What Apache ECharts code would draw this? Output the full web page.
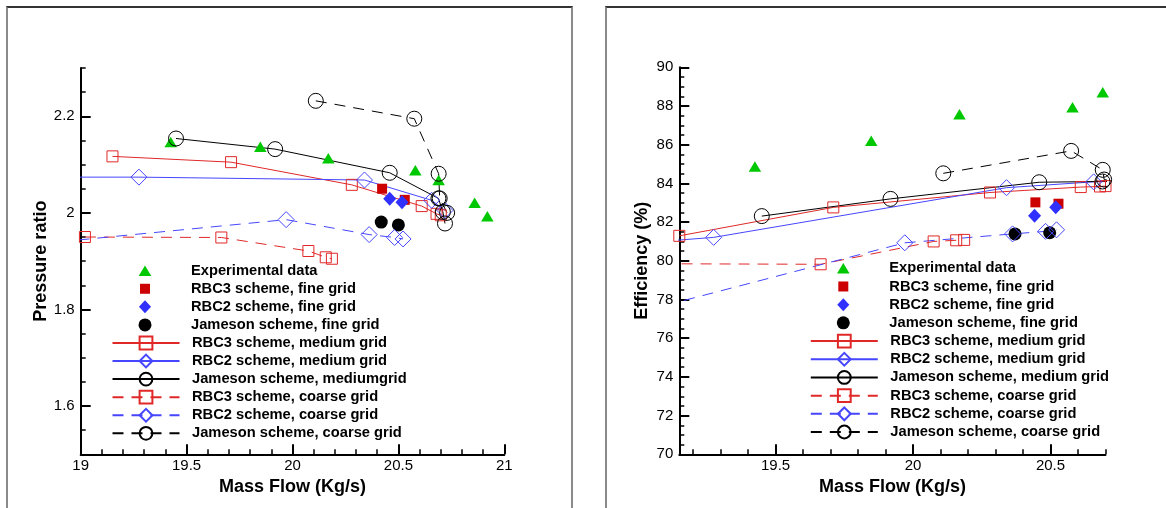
<!DOCTYPE html>
<html><head><meta charset="utf-8">
<script src="https://cdn.jsdelivr.net/npm/echarts@6/dist/echarts.min.js"></script>
<style>
html,body{margin:0;padding:0;background:#fff;width:1166px;height:508px;overflow:hidden;}
.frame{position:absolute;box-sizing:border-box;border:2px solid #8a8a8a;border-top:2px solid #333;}
#f1{left:6px;top:6px;width:567px;height:560px;}
#f2{left:605px;top:6px;width:600px;height:560px;}
#chart{position:absolute;left:0;top:0;width:1166px;height:508px;}
</style></head><body>
<div class="frame" id="f1"></div><div class="frame" id="f2"></div>
<div id="chart"></div>
<script>
// ---------- data ----------
const expFlow = [19.425, 19.848, 20.169, 20.58, 20.69, 20.86, 20.92];
const expPR   = [2.147, 2.137, 2.113, 2.088, 2.068, 2.021, 1.993];
const expEff  = [84.87, 86.21, 87.57, 87.93, 88.71];

const rbc3FineFlowPR = [20.423, 20.530];  const rbc3FinePR = [2.050, 2.027];
const rbc2FineFlowPR = [20.459, 20.517];  const rbc2FinePR = [2.029, 2.022];
const jamFineFlowPR  = [20.419, 20.500];  const jamFinePR  = [1.981, 1.975];
const rbc3FineFlowEff = [20.445, 20.529]; const rbc3FineEff = [83.02, 82.95];
const rbc2FineFlowEff = [20.442, 20.519]; const rbc2FineEff = [82.33, 82.77];
const jamFineFlowEff  = [20.371, 20.497]; const jamFineEff  = [81.39, 81.45];

const rbc3MedFlow = [19.15, 19.71, 20.28, 20.61, 20.68, 20.70];
const rbc3MedPR   = [2.117, 2.105, 2.058, 2.014, 1.998, 1.995];
const rbc3MedEff  = [81.29, 82.76, 83.53, 83.81, 83.84, 83.86];

const rbc2MedFlow = [18.9, 19.275, 20.34, 20.657, 20.72];
const rbc2MedPR   = [2.074, 2.074, 2.068, 2.026, 2.005];
const rbc2MedEff  = [80.8, 81.21, 83.78, 84.08, 84.1];

const jamMedFlow = [19.45, 19.918, 20.459, 20.689, 20.71, 20.72];
const jamMedPR   = [2.154, 2.132, 2.083, 2.030, 2.002, 1.978];
const jamMedEff  = [82.31, 83.2, 84.06, 84.1, 84.1, 84.1];

const rbc3CoarseFlow = [19.02, 19.664, 20.075, 20.157, 20.186];
const rbc3CoarsePR   = [1.950, 1.949, 1.921, 1.908, 1.905];
const rbc3CoarseEff  = [79.85, 79.82, 81.0, 81.06, 81.08];

const rbc2CoarseFlow = [18.9, 19.97, 20.362, 20.482, 20.522];
const rbc2CoarsePR   = [1.940, 1.986, 1.955, 1.949, 1.946];
const rbc2CoarseEff  = [76.96, 80.93, 81.39, 81.52, 81.6];

const jamCoarseFlow = [20.11, 20.575, 20.69, 20.695, 20.73];
const jamCoarsePR   = [2.232, 2.195, 2.081, 2.03, 2.0];
const jamCoarseEff  = [84.52, 85.68, 84.7, 84.2, 84.1];

// ticks
const prXMajor = [19, 19.5, 20, 20.5, 21];
const prXMinor = [19.1,19.2,19.3,19.4,19.6,19.7,19.8,19.9,20.1,20.2,20.3,20.4,20.6,20.7,20.8,20.9];
const prYMajor = [1.6, 1.8, 2, 2.2];
const prYMinor = [1.55,1.65,1.7,1.75,1.85,1.9,1.95,2.05,2.1,2.15,2.25,2.3];
const efXMajor = [19.5, 20, 20.5];
const efXMinor = [19.2,19.3,19.4,19.6,19.7,19.8,19.9,20.1,20.2,20.3,20.4,20.6,20.7];
const efYMajor = [70,72,74,76,78,80,82,84,86,88,90];
const efYMinor = [70.5,71,71.5,72.5,73,73.5,74.5,75,75.5,76.5,77,77.5,78.5,79,79.5,80.5,81,81.5,82.5,83,83.5,84.5,85,85.5,86.5,87,87.5,88.5,89,89.5];

const N_EXP = 'Experimental data';
const N_R3F = 'RBC3 scheme, fine grid';
const N_R2F = 'RBC2 scheme, fine grid';
const N_JF  = 'Jameson scheme, fine grid';
const N_R3M = 'RBC3 scheme, medium grid';
const N_R2M = 'RBC2 scheme, medium grid';
const N_JM_L = 'Jameson scheme, mediumgrid';
const N_JM_R = 'Jameson scheme, medium grid';
const N_R3C = 'RBC3 scheme, coarse grid';
const N_R2C = 'RBC2 scheme, coarse grid';
const N_JC  = 'Jameson scheme, coarse grid';

// ---------- style ----------
const FONT = '"Liberation Sans", Arial, Helvetica, sans-serif';
const GREEN = '#00c800', RED_F = '#cc0000', BLUE_F = '#3030ff';
const RED_L = '#e02828', BLUE_L = '#4646ff', BLACK = '#000';
const DASH = [11, 8];
const fmt = v => String(+(+v).toFixed(2));

function zip(xs, ys){ return ys.map((y,i)=>[xs[i], y]); }

function majorX(gi, min, max, ticks){
  return {type:'value', gridIndex:gi, min, max, position:'bottom',
    name:'Mass Flow (Kg/s)', nameLocation:'middle', nameGap:19,
    nameTextStyle:{fontFamily:FONT,fontSize:18,fontWeight:'bold',color:'#000'},
    axisLine:{show:true,onZero:false,lineStyle:{color:'#000',width:2}},
    axisTick:{show:true,inside:true,length:10,lineStyle:{color:'#000',width:2},customValues:ticks},
    axisLabel:{show:true,margin:4,customValues:ticks,fontFamily:FONT,fontSize:15,color:'#000',formatter:fmt},
    splitLine:{show:false}};
}
function minorX(gi, min, max, ticks){
  return {type:'value', gridIndex:gi, min, max, position:'bottom',
    axisLine:{show:false,onZero:false},
    axisTick:{show:true,inside:true,length:5,lineStyle:{color:'#000',width:1.5},customValues:ticks},
    axisLabel:{show:false}, splitLine:{show:false}};
}
function majorY(gi, min, max, ticks, name, gap){
  return {type:'value', gridIndex:gi, min, max, position:'left',
    name, nameLocation:'middle', nameGap:gap,
    nameTextStyle:{fontFamily:FONT,fontSize:18,fontWeight:'bold',color:'#000'},
    axisLine:{show:true,onZero:false,lineStyle:{color:'#000',width:2}},
    axisTick:{show:true,inside:true,length:10,lineStyle:{color:'#000',width:2},customValues:ticks},
    axisLabel:{show:true,margin:6,customValues:ticks,fontFamily:FONT,fontSize:15,color:'#000',formatter:fmt},
    splitLine:{show:false}};
}
function minorY(gi, min, max, ticks){
  return {type:'value', gridIndex:gi, min, max, position:'left',
    axisLine:{show:false,onZero:false},
    axisTick:{show:true,inside:true,length:5,lineStyle:{color:'#000',width:1.5},customValues:ticks},
    axisLabel:{show:false}, splitLine:{show:false}};
}

function scat(name, data, symbol, size, color, ai){
  return {type:'scatter', name, data, symbol, symbolSize:size, xAxisIndex:ai, yAxisIndex:ai,
    itemStyle:{color, opacity:1}, emphasis:{disabled:true}, silent:true, z:3};
}
function ln(name, data, symbol, size, color, dashed, ai){
  return {type:'line', name, data, symbol, symbolSize:size, showSymbol:true, showAllSymbol:true,
    xAxisIndex:ai, yAxisIndex:ai, clip:true,
    itemStyle:{color:'rgba(255,255,255,0)', borderColor:color, borderWidth:1},
    lineStyle:{color, width:1, type: dashed ? DASH : 'solid'},
    emphasis:{disabled:true}, silent:true, z:3};
}

const TRI = [12.5, 10.5];
function panelSeries(ai, fineSets, exp, med, coarse, jmName){
  return [
    scat(N_EXP, exp, 'triangle', TRI, GREEN, ai),
    scat(N_R3F, fineSets[0], 'rect', 10, RED_F, ai),
    scat(N_R2F, fineSets[1], 'diamond', [13,14], BLUE_F, ai),
    scat(N_JF,  fineSets[2], 'circle', 13, BLACK, ai),
    ln(N_R3M, med[0], 'rect', 11, RED_L, false, ai),
    ln(N_R2M, med[1], 'diamond', 16, BLUE_L, false, ai),
    ln(jmName, med[2], 'circle', 15, BLACK, false, ai),
    ln(N_R3C, coarse[0], 'rect', 11, RED_L, true, ai),
    ln(N_R2C, coarse[1], 'diamond', 16, BLUE_L, true, ai),
    ln(N_JC,  coarse[2], 'circle', 15, BLACK, true, ai)
  ];
}

const seriesPR = panelSeries(0,
  [zip(rbc3FineFlowPR, rbc3FinePR), zip(rbc2FineFlowPR, rbc2FinePR), zip(jamFineFlowPR, jamFinePR)],
  zip(expFlow, expPR),
  [zip(rbc3MedFlow, rbc3MedPR), zip(rbc2MedFlow, rbc2MedPR), zip(jamMedFlow, jamMedPR)],
  [zip(rbc3CoarseFlow, rbc3CoarsePR), zip(rbc2CoarseFlow, rbc2CoarsePR), zip(jamCoarseFlow, jamCoarsePR)],
  N_JM_L);
const seriesEff = panelSeries(2,
  [zip(rbc3FineFlowEff, rbc3FineEff), zip(rbc2FineFlowEff, rbc2FineEff), zip(jamFineFlowEff, jamFineEff)],
  zip(expFlow, expEff),
  [zip(rbc3MedFlow, rbc3MedEff), zip(rbc2MedFlow, rbc2MedEff), zip(jamMedFlow, jamMedEff)],
  [zip(rbc3CoarseFlow, rbc3CoarseEff), zip(rbc2CoarseFlow, rbc2CoarseEff), zip(jamCoarseFlow, jamCoarseEff)],
  N_JM_R);

const legendText = {fontFamily:FONT, fontWeight:'bold', fontSize:14.7, color:'#000', lineHeight:18, padding:[0,0,0,7.5]};
const ICON_TRI = 'path://M0,0 M13,13 M0.2,11.8 L6.5,1.3 L12.8,11.8 Z';
const ICON_SQ  = 'path://M0,0 M13,13 M1.5,1.5 L11.5,1.5 L11.5,11.5 L1.5,11.5 Z';
const ICON_DIA = 'path://M6.5,0 L13,7 L6.5,14 L0,7 Z';
const ICON_CIR = 'path://M0,6.5 A6.5,6.5 0 1,1 13,6.5 A6.5,6.5 0 1,1 0,6.5 Z';
// scatter-only legend icons are 13 px wide and centred in a 67 px slot, so its box starts 27 px to the right
function legendPair(left, top, step, jmName){
  const common = {orient:'vertical', padding:0, itemWidth:67, selectedMode:false, textStyle:legendText};
  return [
    Object.assign({}, common, {left: left + 27, top, itemHeight:13, itemGap:step-18,
      data:[{name:N_EXP, icon:ICON_TRI},{name:N_R3F, icon:ICON_SQ},{name:N_R2F, icon:ICON_DIA},{name:N_JF, icon:ICON_CIR}]}),
    Object.assign({}, common, {left, top: top + 4*step, itemHeight:16, itemGap:step-18,
      data:[N_R3M, N_R2M, jmName, N_R3C, N_R2C, N_JC]})
  ];
}

const option = {
  animation:false,
  backgroundColor:'transparent',
  grid:[
    {left:80.7, top:68, width:423.6, height:386.3},
    {left:679.3, top:67.3, width:426.2, height:387}
  ],
  xAxis:[ majorX(0,19,21,prXMajor), minorX(0,19,21,prXMinor),
          majorX(1,19.15,20.7,efXMajor), minorX(1,19.15,20.7,efXMinor) ],
  yAxis:[ majorY(0,1.5,2.3,prYMajor,'Pressure ratio',31), minorY(0,1.5,2.3,prYMinor),
          majorY(1,70,90,efYMajor,'Efficiency (%)',28), minorY(1,70,90,efYMinor) ],
  legend:[].concat(legendPair(111.5, 261.7, 18.07, N_JM_L), legendPair(809.8, 259.3, 18.19, N_JM_R)),
  series: seriesPR.concat(seriesEff)
};
const chart = echarts.init(document.getElementById('chart'));
chart.setOption(option);
</script>
</body></html>
